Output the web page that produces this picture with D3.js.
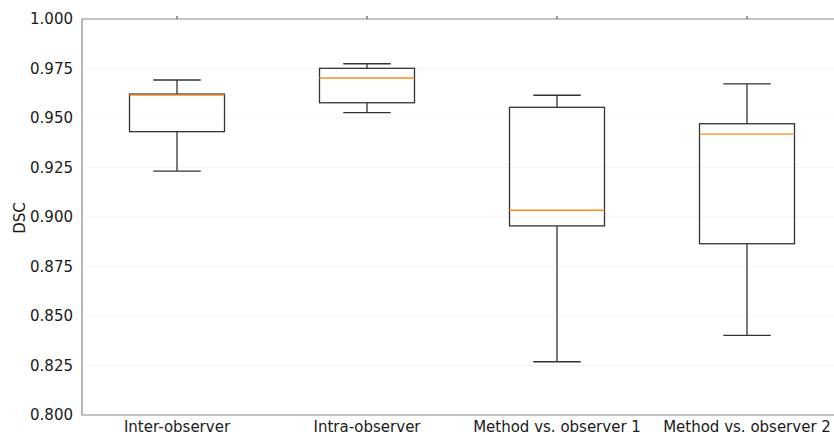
<!DOCTYPE html>
<html>
<head>
<meta charset="utf-8">
<script src="https://cdn.jsdelivr.net/npm/d3@7"></script>
<style>
  body { margin: 0; background: #fff; }
  svg { display: block; font-family: "DejaVu Sans", sans-serif; }
</style>
</head>
<body>
<div></div>
<script>
// data
var groups = ["Inter-observer", "Intra-observer", "Method vs. observer 1", "Method vs. observer 2"]
var whiskerLow  = [0.9232, 0.9527, 0.8269, 0.8402]
var q1          = [0.9431, 0.9577, 0.8955, 0.8865]
var medians     = [0.9616, 0.9702, 0.9034, 0.9419]
var q3          = [0.9621, 0.9751, 0.9554, 0.9471]
var whiskerHigh = [0.9692, 0.9774, 0.9615, 0.9672]
var yTicks = [0.800, 0.825, 0.850, 0.875, 0.900, 0.925, 0.950, 0.975, 1.000]

var W = 834, H = 435
// plot box (window.top is reserved, so no "top" here)
var plotL = 82, plotT = 19, plotB = 415, plotR = 842
var fs = 15

var svg = d3.select("div").append("svg")
  .attr("width", W)
  .attr("height", H)

var x = d3.scaleBand().domain(groups).range([plotL, plotR])
var y = d3.scaleLinear().domain([0.8, 1.0]).range([plotB, plotT])

// faint grid
svg.append("g").selectAll("line")
  .data(yTicks.slice(1, -1))
  .enter().append("line")
  .attr("x1", plotL).attr("x2", plotR)
  .attr("y1", d => y(d)).attr("y2", d => y(d))
  .attr("stroke", "#f5f5f5")
  .attr("stroke-width", 1)

// y axis labels (no tick marks)
var yAxis = svg.append("g")
  .attr("transform", "translate(" + plotL + ",0)")
  .call(d3.axisLeft(y).tickValues(yTicks).tickFormat(d3.format(".3f")).tickSize(0).tickPadding(9))
yAxis.select(".domain").remove()
yAxis.selectAll("text").attr("font-size", fs).attr("fill", "#1a1a1a").attr("font-family", "DejaVu Sans")

// x labels
var xAxis = svg.append("g")
  .attr("transform", "translate(0," + plotB + ")")
  .call(d3.axisBottom(x).tickSize(0).tickPadding(6))
xAxis.select(".domain").remove()
xAxis.selectAll("text").attr("font-size", fs).attr("fill", "#1a1a1a").attr("font-family", "DejaVu Sans")

// small ticks on top spine
var xTop = svg.append("g")
  .attr("transform", "translate(0," + plotT + ")")
  .call(d3.axisTop(x).tickSize(3).tickFormat(""))
xTop.select(".domain").remove()
xTop.selectAll("line").attr("stroke", "#333")

// frame
svg.append("path")
  .attr("d", "M" + plotR + "," + plotT + "H" + plotL + "V" + plotB + "H" + plotR)
  .attr("fill", "none")
  .attr("stroke", "#8a8a8a")
  .attr("stroke-width", 1.2)

// y label
svg.append("text")
  .attr("transform", "translate(25,218) rotate(-90)")
  .attr("text-anchor", "middle")
  .attr("font-size", fs)
  .attr("fill", "#1a1a1a")
  .text("DSC")

var bw = x.bandwidth() / 2
var capW = x.bandwidth() / 4
var data = groups.map((g, i) => ({ g: g, lo: whiskerLow[i], q1: q1[i], med: medians[i], q3: q3[i], hi: whiskerHigh[i] }))

var box = svg.append("g").selectAll("g")
  .data(data)
  .enter().append("g")
  .attr("transform", d => "translate(" + (x(d.g) + x.bandwidth() / 2) + ",0)")

var stroke = "#333"

box.append("line").attr("x1", 0).attr("x2", 0)
  .attr("y1", d => y(d.lo)).attr("y2", d => y(d.q1))
  .attr("stroke", stroke).attr("stroke-width", 1.3)
box.append("line").attr("x1", 0).attr("x2", 0)
  .attr("y1", d => y(d.q3)).attr("y2", d => y(d.hi))
  .attr("stroke", stroke).attr("stroke-width", 1.3)
box.append("line").attr("x1", -capW / 2).attr("x2", capW / 2)
  .attr("y1", d => y(d.lo)).attr("y2", d => y(d.lo))
  .attr("stroke", stroke).attr("stroke-width", 1.3)
box.append("line").attr("x1", -capW / 2).attr("x2", capW / 2)
  .attr("y1", d => y(d.hi)).attr("y2", d => y(d.hi))
  .attr("stroke", stroke).attr("stroke-width", 1.3)
box.append("rect")
  .attr("x", -bw / 2).attr("width", bw)
  .attr("y", d => y(d.q3)).attr("height", d => y(d.q1) - y(d.q3))
  .attr("fill", "none")
  .attr("stroke", stroke).attr("stroke-width", 1.3)
box.append("line").attr("x1", -bw / 2).attr("x2", bw / 2)
  .attr("y1", d => y(d.med)).attr("y2", d => y(d.med))
  .attr("stroke", "#ff8c1a").attr("stroke-width", 1.3)
</script>
</body>
</html>
